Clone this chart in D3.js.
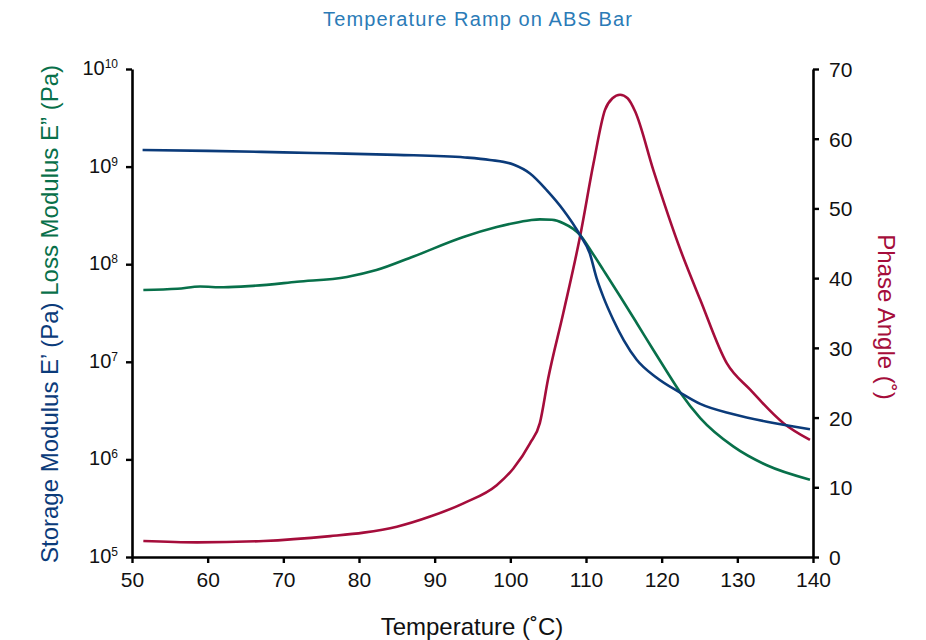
<!DOCTYPE html>
<html>
<head>
<meta charset="utf-8">
<script src="https://cdn.jsdelivr.net/npm/d3@7"></script>
<style>
  body { margin: 0; background: #fff; }
  svg { font-family: "Liberation Sans", Arial, sans-serif; }
</style>
</head>
<body>
<svg width="926" height="640"></svg>
<script>
// values
var storageTemp = [51.4, 60, 70, 76, 85, 94, 97.3, 100.4, 102.6, 104.8, 107, 109.2, 110.5, 111.4, 112.3, 113.6, 115, 116.7, 119.3, 122.5, 125.1, 129.5, 133.9, 139.6];
var storageVal  = [1.48e9, 1.45e9, 1.40e9, 1.37e9, 1.32e9, 1.24e9, 1.17e9, 1.05e9, 8.5e8, 5.75e8, 3.6e8, 2.0e8, 1.29e8, 7.2e7, 4.6e7, 2.7e7, 1.66e7, 1.05e7, 6.9e6, 4.8e6, 3.7e6, 2.9e6, 2.43e6, 2.04e6];

var lossTemp = [51.5, 56, 59, 62.1, 66, 71.8, 78.4, 82.3, 87.2, 93.8, 98.2, 100.4, 102.6, 103.9, 105.5, 107, 109.2, 110.8, 112.3, 114.5, 116.7, 118.9, 120.7, 122.5, 125.1, 129.5, 133.9, 139.6];
var lossVal  = [5.45e7, 5.6e7, 5.9e7, 5.8e7, 6.0e7, 6.6e7, 7.4e7, 8.7e7, 1.2e8, 1.9e8, 2.4e8, 2.63e8, 2.82e8, 2.88e8, 2.85e8, 2.63e8, 2.0e8, 1.32e8, 8.7e7, 4.7e7, 2.5e7, 1.32e7, 7.9e6, 4.8e6, 2.65e6, 1.35e6, 8.7e5, 6.2e5];

var phaseTemp = [51.5, 58.6, 67.4, 76.2, 80.6, 85, 89.4, 93.8, 98.2, 100.4, 102.6, 103.9, 105, 107, 109.2, 111, 112.5, 113.5, 114.5, 115.5, 116.5, 118.9, 122.5, 125.1, 128.6, 131.7, 136.1, 139.6];
var phaseVal  = [2.3, 2.1, 2.3, 3.0, 3.5, 4.35, 5.8, 7.7, 10.3, 12.7, 16.3, 19.2, 25.6, 35, 45.9, 56.5, 64.1, 65.8, 66.3, 65.8, 63.9, 55.5, 44.0, 36.9, 27.8, 24.0, 19.2, 16.8];

var xTicks = [50, 60, 70, 80, 90, 100, 110, 120, 130, 140];
var logTicks = [5, 6, 7, 8, 9, 10];
var phaseTicks = [0, 10, 20, 30, 40, 50, 60, 70];

var blue = '#0b3b7a', green = '#08704a', red = '#a50d3b';

var svg = d3.select('svg');
var mLeft = 132, mRight = 813, mTop = 69, mBottom = 557;

var x = d3.scaleLinear().domain([50, 140]).range([mLeft, mRight]);
var yL = d3.scaleLog().domain([1e5, 1e10]).range([mBottom, mTop]);
var yR = d3.scaleLinear().domain([0, 70]).range([mBottom, mTop]);

function zip(a, b) { return a.map(function(t, i) { return [t, b[i]]; }); }

// curves
var lineL = d3.line().x(function(d) { return x(d[0]); }).y(function(d) { return yL(d[1]); }).curve(d3.curveMonotoneX);
var lineR = d3.line().x(function(d) { return x(d[0]); }).y(function(d) { return yR(d[1]); }).curve(d3.curveMonotoneX);

svg.append('path').attr('d', lineR(zip(phaseTemp, phaseVal)))
  .attr('fill', 'none').attr('stroke', red).attr('stroke-width', 2.6);
svg.append('path').attr('d', lineL(zip(lossTemp, lossVal)))
  .attr('fill', 'none').attr('stroke', green).attr('stroke-width', 2.6);
svg.append('path').attr('d', lineL(zip(storageTemp, storageVal)))
  .attr('fill', 'none').attr('stroke', blue).attr('stroke-width', 2.6);

// axes
var xAxis = svg.append('g').attr('transform', 'translate(0,' + mBottom + ')')
  .call(d3.axisBottom(x).tickValues(xTicks).tickSize(6).tickSizeOuter(0).tickPadding(9));
var lAxis = svg.append('g').attr('transform', 'translate(' + mLeft + ',0)')
  .call(d3.axisLeft(yL).tickValues(logTicks.map(function(p) { return Math.pow(10, p); }))
    .tickSize(6).tickSizeOuter(0).tickFormat(''));
var rAxis = svg.append('g').attr('transform', 'translate(' + mRight + ',0)')
  .call(d3.axisRight(yR).tickValues(phaseTicks).tickSize(6).tickSizeOuter(0).tickPadding(10));

[xAxis, lAxis, rAxis].forEach(function(g) {
  g.select('.domain').attr('stroke', '#000').attr('stroke-width', 2.6);
  g.selectAll('.tick line').attr('stroke', '#000').attr('stroke-width', 2.4);
  g.selectAll('.tick text').attr('fill', '#111').style('font-size', '21px')
    .style('font-family', '"Liberation Sans", Arial, sans-serif');
});
rAxis.selectAll('.tick text').attr('dy', '0.36em');

// power-of-ten labels on the left axis
logTicks.forEach(function(p) {
  var t = svg.append('text').attr('x', 118).attr('y', yL(Math.pow(10, p)) + 6)
    .attr('text-anchor', 'end').attr('fill', '#111').style('font-size', '20px');
  t.append('tspan').text('10');
  t.append('tspan').attr('dy', -7).style('font-size', '12px').text(p);
});

// titles
svg.append('text').attr('x', 478).attr('y', 26).attr('text-anchor', 'middle')
  .attr('fill', '#2b7bb7').style('font-size', '20px').style('letter-spacing', '1.1px')
  .text('Temperature Ramp on ABS Bar');

svg.append('text').attr('x', 472).attr('y', 635).attr('text-anchor', 'middle')
  .attr('fill', '#111').style('font-size', '24px').text('Temperature (˚C)');

var yLab = svg.append('text').attr('transform', 'translate(58,' + ((mTop + mBottom) / 2 + 1) + ') rotate(-90)')
  .attr('text-anchor', 'middle').style('font-size', '24px');
yLab.append('tspan').attr('fill', blue).text('Storage Modulus E’ (Pa)');
yLab.append('tspan').attr('fill', green).text('  Loss Modulus E” (Pa)');

svg.append('text').attr('transform', 'translate(878,317) rotate(90)')
  .attr('text-anchor', 'middle').attr('fill', red).style('font-size', '24px').text('Phase Angle (˚)');
</script>
</body>
</html>
